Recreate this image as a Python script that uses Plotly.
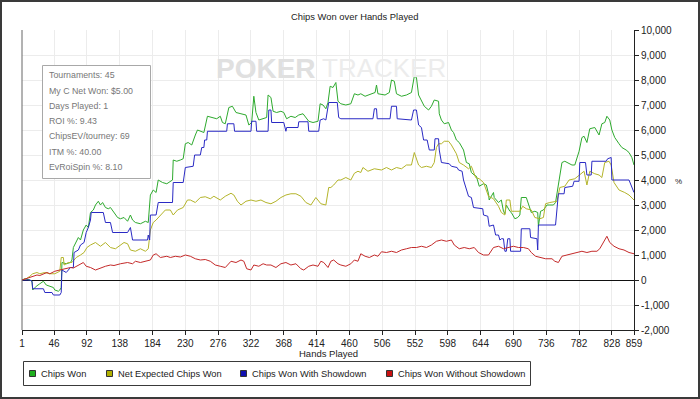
import plotly.graph_objects as go

# ---------------- data ----------------
hands_green = [1,5,12,15,16,21,26,31,35,40,45,47,52,54,56,57,63,69,71,73,77,80,83,87,91,94,97,101,104,108,111,114,118,122,125,130,135,139,144,149,153,156,160,167,174,178,181,185,189,192,198,204,209,212,213,218,223,227,230,234,239,241,244,247,251,256,261,268,274,279,282,286,291,296,301,308,315,319,323,326,329,333,339,344,346,350,353,358,364,368,372,378,384,389,395,399,403,409,416,419,423,427,430,433,437,441,444,448,455,462,467,472,476,482,496,498,500,510,516,519,523,526,533,540,547,551,554,557,561,565,571,575,579,585,586,589,593,599,603,606,610,614,620,624,628,631,635,638,642,645,648,652,655,656,662,663,669,673,676,678,680,685,687,692,696,699,701,708,711,715,720,724,725,728,732,737,741,746,749,753,758,762,766,772,776,782,786,789,793,797,804,810,814,818,821,825,828,832,838,842,848,852,856,859]
chips_won = [0,50,0,-50,-400,-250,-150,-50,-200,-250,-300,-400,-450,-400,-300,700,650,700,800,1300,1500,1700,1600,2000,2200,2100,2700,2800,3000,3150,3000,3100,2900,2850,2900,2700,2500,2450,2500,2350,2600,2400,2300,2250,2350,2300,3400,3600,3500,4000,3900,3850,3950,4000,4800,4750,4800,4850,5450,5500,5400,5600,5800,6000,5950,5900,6550,6500,6450,6550,6300,6250,6900,6950,6700,6650,6600,6200,6300,7350,6700,6400,6450,6500,7400,7300,6750,6700,6750,6700,6450,6550,6500,6600,6650,6500,6350,6300,6350,7050,7000,6850,7100,7750,7700,7900,7150,7050,7000,7050,7450,7400,7450,7350,7500,7800,7450,7400,7500,8000,7950,7450,7350,7400,7500,8150,8100,7400,7200,6950,6800,6950,7200,7150,6650,6400,6250,6300,6000,5900,5600,5500,5200,4700,4650,4300,4200,4150,3750,3800,3850,3800,3450,3200,3500,3300,3100,3200,2750,2650,3000,2750,2700,2450,2500,2600,3300,3300,3050,2700,2750,2700,2150,2750,2800,3000,3000,3000,3100,3750,4700,4750,4700,4600,4600,5150,5700,5750,5500,6050,6100,5800,6250,6300,6550,6400,6000,5700,5450,5300,5200,5100,4900,4600]

hands_blue = [1,12,15,16,31,33,43,45,54,56,57,63,69,73,74,80,83,88,91,94,97,98,115,118,125,128,149,153,156,177,178,180,181,189,192,212,213,227,230,241,243,251,253,256,257,260,261,288,289,298,299,322,323,329,330,346,347,350,351,368,371,372,388,389,402,403,417,419,424,427,431,443,445,448,493,495,498,499,517,519,526,527,547,550,554,557,561,564,569,572,579,580,585,586,589,600,603,611,613,618,620,624,627,631,634,647,648,654,656,662,665,669,671,673,676,678,680,682,685,686,700,701,713,714,723,724,725,749,751,753,761,762,773,775,782,783,791,793,799,800,820,822,827,828,852,855,859]
chips_showdown = [0,0,-50,-350,-350,-500,-500,-600,-600,-500,400,300,500,500,1100,1200,1400,1500,1900,2100,2400,2700,2700,2300,2300,1900,1900,2100,1600,1600,1800,1600,2600,2600,3100,3100,3900,3900,4500,4550,5000,5000,5300,5300,5600,5600,5950,5950,6250,6250,5950,5950,6350,6350,5950,5950,6800,6800,6300,6300,5950,6100,6100,6330,6330,5950,5950,6400,6450,6400,7100,7100,6500,6450,6450,6850,6850,6450,6450,6950,6950,6450,6400,6800,6800,6200,6100,5600,5600,5200,5200,5650,5650,5200,4700,4650,4550,4500,4400,4350,4000,3600,3350,3300,2900,2850,2600,2550,2150,2200,1800,1800,1600,1650,1650,1150,1150,1650,1650,1150,1150,2050,2050,1700,1650,1200,2200,2200,3000,3450,3450,3700,3750,3950,3950,4700,4700,4200,4200,4750,4750,4850,4900,4000,4000,3750,3500]

hands_olive = [1,7,12,16,22,26,33,40,47,54,56,59,60,66,71,77,83,88,92,97,104,111,118,125,132,139,144,149,153,160,167,174,178,181,185,189,195,202,209,213,219,227,233,237,244,251,258,265,270,279,286,294,298,303,308,315,322,329,336,343,350,357,364,371,378,385,392,399,406,413,420,427,431,434,438,444,448,455,462,467,472,476,479,486,495,505,512,519,526,533,540,547,551,554,557,561,568,575,579,582,585,589,593,599,603,610,614,620,627,631,637,642,648,655,662,669,673,678,680,685,687,692,699,703,708,715,720,727,732,735,741,751,755,762,768,776,782,789,793,797,804,810,814,818,824,827,831,838,846,852,859]
net_expected = [0,50,150,250,300,250,300,250,250,350,900,900,600,700,700,900,1000,1100,1300,1400,1500,1350,1500,1300,1250,1400,1500,1450,1200,1150,1250,1150,1250,2000,2300,2400,2600,2800,2800,2600,2800,2900,3200,3200,3100,3300,3330,3250,3350,3200,3350,3470,3400,3150,3000,3150,3200,3150,3200,3100,3050,3150,3300,3400,3450,3450,3350,3100,3000,3300,3050,3000,3700,3700,3800,4000,4000,4100,4000,4270,4350,4300,4500,4350,4450,4400,4500,4400,4500,4450,4600,4600,5100,4800,4600,4500,4550,4500,4700,5300,5450,5450,5550,5550,5400,5050,4700,4600,4450,4550,4100,4050,3900,3350,3250,2950,2700,2600,3200,3200,2750,2750,2750,2950,2850,2800,2500,2450,2500,3050,3100,3150,3700,3750,4000,4050,4200,4350,3800,4350,4250,4200,4100,4700,4750,4600,3900,3600,3500,3400,3200]

hands_red = [1,7,12,16,22,26,31,36,40,47,54,63,69,73,80,87,91,97,104,111,118,125,130,139,149,156,160,167,174,181,185,189,195,204,209,216,223,230,237,244,251,258,265,272,279,286,294,301,308,312,316,322,326,333,339,344,350,357,364,371,378,385,392,396,403,409,416,420,424,430,434,438,444,448,455,462,467,472,476,482,488,495,500,505,512,519,526,533,540,547,554,561,568,575,582,589,596,603,607,614,621,628,635,641,648,655,662,669,676,683,690,697,704,711,715,721,727,735,744,748,753,758,765,772,779,786,793,800,807,811,818,821,825,831,838,845,852,859]
chips_no_showdown = [0,50,100,150,200,180,250,300,250,350,400,450,500,480,600,700,550,500,400,480,550,600,580,650,700,650,750,700,750,800,1000,1050,900,950,900,950,920,1000,950,850,800,820,750,600,550,500,750,700,800,750,450,400,600,550,650,600,600,500,650,700,600,650,450,400,550,600,550,750,700,500,750,800,650,600,550,650,800,750,1050,950,900,1000,950,1130,1100,1150,1100,1200,1250,1300,1300,1350,1300,1400,1550,1600,1550,1600,1400,1250,1300,1250,1300,1100,1000,1000,1300,1350,1250,1300,1350,1300,1300,1250,1100,950,900,850,850,750,700,950,1000,1050,1100,1150,1100,1150,1150,1250,1600,1750,1500,1350,1250,1200,1100,1050]

series_names = ["Chips Won", "Net Expected Chips Won", "Chips Won With Showdown", "Chips Won Without Showdown"]
x_tickvals = [1, 46, 92, 138, 184, 230, 276, 322, 368, 414, 460, 506, 552, 598, 644, 690, 736, 782, 828, 859]
y_tickvals = [-2000, -1000, 0, 1000, 2000, 3000, 4000, 5000, 6000, 7000, 8000, 9000, 10000]
y_ticktext = ["-2,000", "-1,000", "0", "1,000", "2,000", "3,000", "4,000", "5,000", "6,000", "7,000", "8,000", "9,000", "10,000"]
stats_lines = ["Tournaments: 45", "My C Net Won: $5.00", "Days Played: 1", "ROI %: 9.43",
               "ChipsEV/tourney: 69", "ITM %: 40.00", "EvRoiSpin %: 8.10"]

# ---------------- styling ----------------
W, H = 700, 399
L, R, T, B = 22, 66, 30, 69
PW, PH = W - L - R, H - T - B
FONT = "Liberation Sans"


def px(p):
    return (p - L) / PW


def py(p):
    return (H - B - p) / PH


line_colors = ["#2eaa2e", "#b4b42a", "#2a2ac4", "#c42a2a"]
swatch_colors = ["#1fb01f", "#b0b000", "#1010b0", "#c81010"]

fig = go.Figure()
for hx, vy, col, name in zip([hands_green, hands_olive, hands_blue, hands_red],
                             [chips_won, net_expected, chips_showdown, chips_no_showdown],
                             line_colors, series_names):
    fig.add_trace(go.Scatter(x=hx, y=vy, mode="lines", name=name,
                             line=dict(color=col, width=1), showlegend=False,
                             hoverinfo="skip"))

shapes = []
annotations = []

# left frame line of plot area
shapes.append(dict(type="line", xref="paper", yref="paper", x0=0, x1=0, y0=0, y1=1,
                   line=dict(color="#666666", width=1)))
# outer border
shapes.append(dict(type="rect", xref="paper", yref="paper",
                   x0=px(1), x1=px(699), y0=py(398), y1=py(1),
                   line=dict(color="#3a3a3a", width=2)))

# watermark
annotations.append(dict(xref="paper", yref="paper", x=px(266), y=py(68), text="<b>POKER</b>",
                        showarrow=False, font=dict(family=FONT, size=28, color="#e0e0e0"),
                        xanchor="center", yanchor="middle"))
annotations.append(dict(xref="paper", yref="paper", x=px(384), y=py(68), text="TRACKER",
                        showarrow=False, font=dict(family=FONT, size=26, color="#ececec"),
                        xanchor="center", yanchor="middle"))

# stats box
shapes.append(dict(type="rect", xref="paper", yref="paper", layer="above",
                   x0=px(42.5), x1=px(150.5), y0=py(178.5), y1=py(65.5),
                   fillcolor="white", line=dict(color="#a8a8a8", width=1)))
for i, s in enumerate(stats_lines):
    annotations.append(dict(xref="paper", yref="paper", x=px(46.5), y=py(75.5 + i * 15.2),
                            text=s, showarrow=False, xanchor="left", yanchor="middle",
                            font=dict(family=FONT, size=8.8, color="#777777")))

# title, axis titles
annotations.append(dict(xref="paper", yref="paper", x=px(355), y=py(16.5),
                        text="Chips Won over Hands Played", showarrow=False,
                        xanchor="center", yanchor="middle",
                        font=dict(family=FONT, size=9.4, color="#222222")))
annotations.append(dict(xref="paper", yref="paper", x=px(328), y=py(353),
                        text="Hands Played", showarrow=False,
                        xanchor="center", yanchor="middle",
                        font=dict(family=FONT, size=9.5, color="#222222")))
annotations.append(dict(xref="paper", yref="paper", x=px(678), y=py(181),
                        text="%", showarrow=False, xanchor="center", yanchor="middle",
                        font=dict(family=FONT, size=8, color="#222222")))

# legend box
shapes.append(dict(type="rect", xref="paper", yref="paper",
                   x0=px(23.5), x1=px(530.5), y0=py(385.5), y1=py(361.5),
                   fillcolor="white", line=dict(color="#3a3a3a", width=1)))
swatch_x = [29.5, 106.5, 240.5, 386.5]
for sx, col, name in zip(swatch_x, swatch_colors, series_names):
    shapes.append(dict(type="rect", xref="paper", yref="paper",
                       x0=px(sx), x1=px(sx + 6), y0=py(376.5), y1=py(370.5),
                       fillcolor=col, line=dict(color="#333333", width=1)))
    annotations.append(dict(xref="paper", yref="paper", x=px(sx + 9), y=py(373.5),
                            text=name, showarrow=False, xanchor="left", yanchor="middle",
                            font=dict(family=FONT, size=9.3, color="#222222")))

fig.update_layout(
    width=W, height=H,
    margin=dict(l=L, r=R, t=T, b=B, pad=0),
    paper_bgcolor="white", plot_bgcolor="white",
    showlegend=False,
    shapes=shapes, annotations=annotations,
    font=dict(family=FONT, size=10, color="#222222"),
    xaxis=dict(range=[1, 859], tickmode="array", tickvals=x_tickvals,
               ticktext=[str(v) for v in x_tickvals],
               showgrid=True, gridcolor="#ececec", gridwidth=1,
               showline=True, linecolor="#222222", linewidth=1,
               ticks="outside", ticklen=4, tickcolor="#222222",
               zeroline=False, tickfont=dict(family=FONT, size=10, color="#222222")),
    yaxis=dict(range=[-2000, 10000], side="right", tickmode="array",
               tickvals=y_tickvals, ticktext=y_ticktext,
               showgrid=True, gridcolor="#ececec", gridwidth=1,
               showline=True, linecolor="#222222", linewidth=1,
               ticks="outside", ticklen=4, tickcolor="#222222",
               zeroline=True, zerolinecolor="#111111", zerolinewidth=1,
               tickfont=dict(family=FONT, size=10, color="#222222")),
)

fig.write_html("out.html", config={"displayModeBar": False},
               post_script="document.body.style.margin='0';document.body.style.overflow='hidden';")
